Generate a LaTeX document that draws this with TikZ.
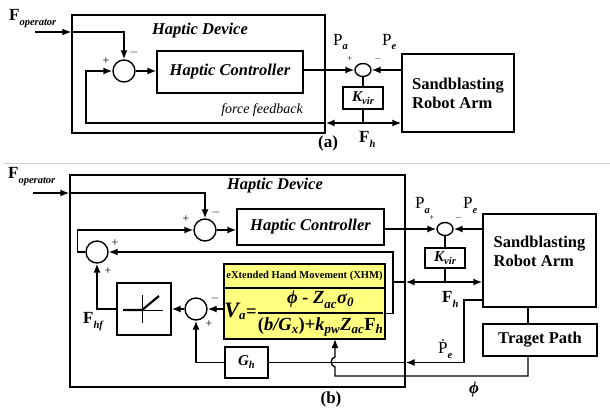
\documentclass[tikz,border=0pt]{standalone}
\usepackage{amsmath}
\usepackage{fontspec}
\setmainfont{Liberation Serif}
\usetikzlibrary{positioning, arrows.meta, shapes.geometric, calc}

\definecolor{xhmyellow}{RGB}{255,255,128}
\newcommand{\bi}[1]{\text{\bfseries\itshape #1}}
\newcommand{\lowsub}[2][4pt]{\raisebox{-#1}{\fontsize{10.5}{10.5}\selectfont\bfseries\itshape #2}}

\tikzset{
    wire/.style={line width=1.4pt},
    arr/.style={wire, -{Latex[length=9pt,width=7pt]}},
    frame/.style={draw, line width=1.4pt, inner sep=0pt},
    blk/.style={frame, font=\fontsize{16.5}{19}\selectfont\bfseries},
    ctrl/.style={blk, font=\fontsize{16.5}{19}\selectfont\bfseries\itshape},
    sumbig/.style={circle, draw, line width=1.4pt, minimum size=22pt, inner sep=0pt},
    sumsmall/.style={ellipse, draw, line width=1.4pt, minimum width=16pt, minimum height=13pt, inner sep=0pt},
    sgn/.style={inner sep=0pt, font=\fontsize{12}{12}\selectfont},
    sgnsmall/.style={inner sep=0pt, font=\fontsize{9}{9}\selectfont},
    lbl/.style={inner sep=0pt, anchor=base west, font=\fontsize{17}{17}\selectfont},
    title/.style={inner sep=0pt, font=\fontsize{16.5}{19}\selectfont\bfseries\itshape},
    xhmbox/.style={draw, line width=1.4pt, fill=xhmyellow, inner sep=0pt, outer sep=0pt}
}

\begin{document}
\begin{tikzpicture}[x=1pt, y=-1pt, node distance=0pt]
\useasboundingbox (0,0) rectangle (610,415);

% ---------------- (a) ----------------
\node[frame, minimum width=253pt, minimum height=118pt] (hdA) at (198.5,74) {};
\node[title] (hdAtitle) at (200,31) {Haptic Device};
\node[sumbig] (sumA1) at (124,71) {};
\node[ctrl, minimum width=146pt, minimum height=42pt] (hcA) at (230,72) {Haptic Controller};
\node[sumsmall] (sumA2) at (363,70) {};
\node[blk, align=left, minimum width=112pt, minimum height=78pt] (robotA) at (458,93) {Sandblasting\\Robot Arm};
\node[frame, minimum width=40pt, minimum height=22pt] (kvA) at (363,98) {\fontsize{15}{15}\selectfont\bfseries\itshape K\lowsub[3pt]{vir}};
\coordinate (jA) at (363,123);
\coordinate (inA) at (35,32);
\coordinate (fbA) at (86,123);

% connectors
\draw[arr] (inA) -- (hdA.west |- inA);
\draw[arr] (hdA.west |- inA) -| (sumA1.north);
\draw[arr] (sumA1) -- (hcA.west |- sumA1);
\draw[arr] (hcA.east |- sumA2) -- (sumA2.west);
\draw[arr] (robotA.west |- sumA2) -- (sumA2.east);
\draw[wire] (sumA2) -- (kvA);
\draw[wire] (kvA) -- (jA);
\draw[arr] (jA) -- (robotA.west |- jA);
\draw[arr] (jA) -- (hdA.east |- jA);
\draw[arr] (hdA.east |- jA) -- (fbA) |- (sumA1.west);

% labels
\node[lbl, font=\fontsize{17}{17}\selectfont\bfseries] (fopA) at (9,20) {F\lowsub[5pt]{operator}};
\node[sgn] at (106,61) {+};
\node[sgn] at (134,52) {$-$};
\node[sgnsmall] at (350,59) {+};
\node[sgnsmall] at (378,59) {$-$};
\node[lbl] (paA) at (333,45) {P\lowsub[5pt]{a}};
\node[lbl] (peA) at (382,45) {P\lowsub[5pt]{e}};
\node[inner sep=0pt, font=\fontsize{14}{14}\selectfont\itshape] (fbtext) at (262,110) {force feedback};
\node[lbl, font=\fontsize{17}{17}\selectfont\bfseries] (fhA) at (359,142) {F\lowsub[5pt]{h}};
\node[inner sep=0pt, font=\fontsize{17}{17}\selectfont\bfseries] (capA) at (328,143) {(a)};

% separator
\draw[black!18, line width=0.8pt] (3,163) -- (610,163);

% ---------------- (b) ----------------
\node[frame, minimum width=335pt, minimum height=212pt] (hdB) at (237.5,281) {};
\node[title] (hdBtitle) at (275,186) {Haptic Device};
\node[sumbig] (sumB1) at (205,230) {};
\node[ctrl, minimum width=147pt, minimum height=36pt] (hcB) at (310.5,227) {Haptic Controller};
\node[sumsmall] (sumB2) at (445,229) {};
\node[blk, align=left, minimum width=113pt, minimum height=93pt] (robotB) at (539.5,260.5) {Sandblasting\\Robot Arm\\\mbox{}};
\node[frame, minimum width=40pt, minimum height=20pt] (kvB) at (445,258) {\fontsize{15}{15}\selectfont\bfseries\itshape K\lowsub[3pt]{vir}};
\node[sumbig] (sumHf) at (97,252) {};
\node[frame, minimum width=54pt, minimum height=52pt] (dz) at (144,309) {};
\node[sumbig] (sumDz) at (196,309) {};
\node[xhmbox, minimum width=161pt, minimum height=24pt, font=\fontsize{10.5}{12}\selectfont\bfseries] (xhmHead) at (304.5,276) {eXtended Hand Movement (XHM)};
\node[xhmbox, minimum width=161pt, minimum height=51pt, below=of xhmHead, font=\fontsize{18.5}{20}\selectfont] (xhm)
    {$\displaystyle \text{\fontsize{22}{22}\selectfont\bfseries\itshape V}_{\bi{a}}\text{\bfseries =}\genfrac{}{}{1.3pt}{}{\bi{ϕ - Z}_{\bi{ac}}\bi{σ}_{\bi{0}}}{\text{\bfseries(}\bi{b/G}_{\bi{x}}\text{\bfseries)+}\bi{k}_{\bi{pw}}\bi{Z}_{\bi{ac}}\text{\bfseries F}_{\bi{h}}}$};
\node[frame, minimum width=43pt, minimum height=31pt] (gh) at (246.5,362.5) {\fontsize{15}{15}\selectfont\bfseries\itshape G\lowsub[3pt]{h}};
\node[blk, minimum width=114pt, minimum height=32pt] (tp) at (540,340) {Traget Path};
\coordinate (inB) at (33,193);
\coordinate (jB) at (445,282);
\coordinate (tapB) at (393,282);
\coordinate (peB) at (464,300);
\coordinate (phiX) at (528,376);
\coordinate (hop) at (335,362);

% dead zone
\draw[line width=2.2pt] ($(dz)+(-21,1)$) -- ($(dz)+(-2,1)$) -- ($(dz)+(15,-13)$);
\draw[line width=0.7pt] ($(dz)+(-2,1)$) -- ($(dz)+(19,1)$);
\draw[line width=0.7pt] ($(dz)+(-2,-14)$) -- ($(dz)+(-2,14)$);

% connectors
\draw[arr] (inB) -- (hdB.west |- inB);
\draw[arr] (hdB.west |- inB) -| (sumB1.north);
\draw[arr] (sumB1) -- (hcB.west |- sumB1);
\draw[arr] (hcB.east |- sumB2) -- (sumB2.west);
\draw[arr] (robotB.west |- sumB2) -- (sumB2.east);
\draw[wire] (sumB2) -- (kvB);
\draw[wire] (kvB) -- (jB);
\draw[arr] (jB) -- (robotB.west |- jB);
\draw[arr] (jB) -- (hdB.east |- jB);
\draw[wire] (hdB.east |- jB) -- (tapB);
\draw[arr] (tapB) |- (sumHf.east);
\draw[wire] (tapB) |- (xhm.east);
\draw[arr] (sumHf.west) -- ++(-8,0) |- (sumB1.west);
\draw[arr] (dz.west) -| (sumHf.south);
\draw[arr] (sumDz.west) -- (dz.east);
\draw[arr] (xhm.west |- sumDz) -- (sumDz.east);
\draw[arr] (gh.west) -| (sumDz.south);
\draw[arr] (robotB.west |- peB) -- (peB) |- (hdB.east |- gh);
\draw[wire] (hdB.east |- gh) -- (gh.east);
\draw[wire] (robotB.south -| phiX) -- (tp.north -| phiX);
\draw[arr] (tp.south -| phiX) -- (phiX) -- (phiX -| hop) -- ($(hop)+(0,5)$)
    .. controls ($(hop)+(-5,4)$) and ($(hop)+(-5,-4)$) .. ($(hop)+(0,-5)$) -- (xhm.south -| hop);

% labels
\node[lbl, font=\fontsize{17}{17}\selectfont\bfseries] (fopB) at (8,178) {F\lowsub[5pt]{operator}};
\node[sgn] at (186,219) {+};
\node[sgn] at (216,212) {$-$};
\node[sgn] at (115,243) {+};
\node[sgn] at (108,271) {+};
\node[sgn] at (215,298) {$-$};
\node[sgn] at (209,324) {+};
\node[sgnsmall] at (432,218) {+};
\node[sgnsmall] at (459,218) {$-$};
\node[lbl] (paB) at (415,208) {P\lowsub[5pt]{a}};
\node[lbl] (peBlabel) at (463,208) {P\lowsub[5pt]{e}};
\node[lbl, font=\fontsize{17}{17}\selectfont\bfseries] (fhB) at (442,302) {F\lowsub[5pt]{h}};
\node[lbl, font=\fontsize{17}{17}\selectfont\bfseries] (fhf) at (83,323) {F\lowsub[5pt]{hf}};
\node[lbl] (pedot) at (438,353) {\.{P}\lowsub[5pt]{e}};
\node[inner sep=0pt, font=\fontsize{17}{17}\selectfont\bfseries\itshape] (phi) at (474,389) {ϕ};
\node[inner sep=0pt, font=\fontsize{17}{17}\selectfont\bfseries] (capB) at (331,399) {(b)};
\end{tikzpicture}
\end{document}
